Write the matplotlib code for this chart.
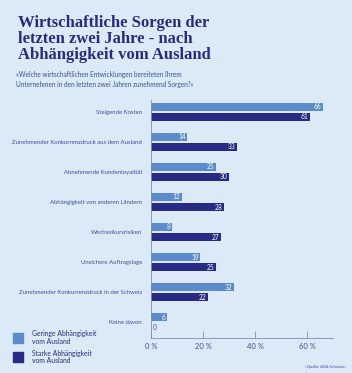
import numpy as np
import matplotlib.pyplot as plt
from matplotlib.patches import Rectangle

categories = ['Steigende Kosten',
              'Zunehmender Konkurrenzdruck aus dem Ausland',
              'Abnehmende Kundenloyalität',
              'Abhängigkeit von anderen Ländern',
              'Wechselkursrisiken',
              'Unsichere Auftragslage',
              'Zunehmender Konkurrenzdruck in der Schweiz',
              'Keine davon']
geringe = [66, 14, 25, 12, 8, 19, 32, 6]
starke = [61, 33, 30, 28, 27, 25, 22, 0]
ticks = [0, 20, 40, 60]
tick_labels = ['0 %', '20 %', '40 %', '60 %']

bg = '#dce9f6'
light = '#5b8bcb'
dark = '#272b86'
navy = '#262d80'
txt = '#3b4f9e'
font = 'Lato'

fig = plt.figure(figsize=(3.52, 3.73), dpi=100, facecolor=bg)
ax = fig.add_axes([0.429, 0.094, 0.517, 0.638])
ax.set_facecolor(bg)

y = np.arange(len(categories))
off = 0.167
h = 0.24
ax.barh(y - off, geringe, height=h, color=light)
ax.barh(y + off, starke, height=h, color=dark)

for i in range(len(categories)):
    for v, yy in ((geringe[i], y[i] - off), (starke[i], y[i] + off)):
        if v > 0:
            ax.text(v - 0.6, yy, str(v), ha='right', va='center', color='white',
                    fontsize=4.8, family=font)
        else:
            ax.text(0.6, yy, str(v), ha='left', va='center', color=txt,
                    fontsize=4.8, family=font)

ax.set_xlim(0, 70)
ax.set_ylim(7.53, -0.4)
ax.set_yticks(y)
ax.set_yticklabels(categories, fontsize=4.3, color=txt, family=font)
ax.tick_params(axis='y', length=0, pad=6.5)
ax.set_xticks(ticks)
ax.set_xticklabels(tick_labels, fontsize=5.5, color=txt, family=font)
ax.tick_params(axis='x', direction='in', length=5, width=0.6, color='#7d8fb8', pad=4)
for s in ['top', 'right']:
    ax.spines[s].set_visible(False)
for s in ['left', 'bottom']:
    ax.spines[s].set_color('#7d8fb8')
    ax.spines[s].set_linewidth(0.6)

fig.text(0.051, 0.96, 'Wirtschaftliche Sorgen der\nletzten zwei Jahre - nach\nAbhängigkeit vom Ausland',
         ha='left', va='top', fontsize=12, fontweight='bold', color=navy,
         family='Liberation Serif', linespacing=1.02)
fig.text(0.045, 0.81, '«Welche wirtschaftlichen Entwicklungen bereiteten Ihrem\nUnternehmen in den letzten zwei Jahren zunehmend Sorgen?»',
         ha='left', va='top', fontsize=4.7, color=txt, family=font, linespacing=1.45)

# legend
for yc, col, lab in ((0.094, light, 'Geringe Abhängigkeit\nvom Ausland'),
                     (0.043, dark, 'Starke Abhängigkeit\nvom Ausland')):
    fig.patches.append(Rectangle((0.037, yc - 0.0135), 0.028, 0.027,
                                 transform=fig.transFigure, color=col))
    fig.text(0.09, yc, lab, ha='left', va='center', fontsize=4.9,
             color=navy, family=font, linespacing=1.15)

fig.text(0.983, 0.013, '«Quelle: AXA Schweiz»', ha='right', va='bottom',
         fontsize=3.0, color=txt, family=font)

fig.savefig('out.png', dpi=100, facecolor=bg)
